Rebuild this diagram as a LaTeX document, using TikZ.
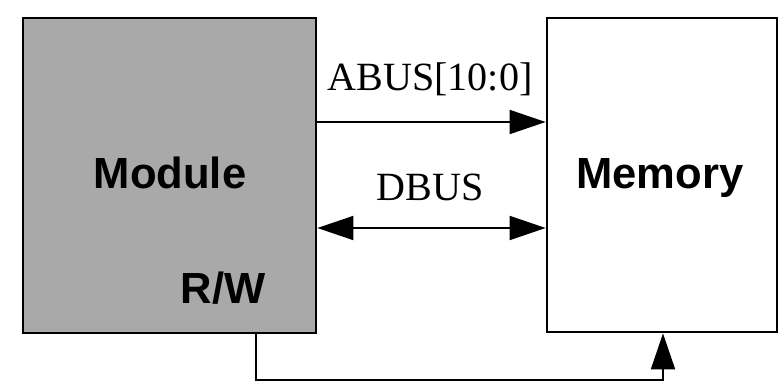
\documentclass[tikz,border=0pt]{standalone}
\usepackage{fontspec}
\setmainfont{Liberation Serif}
\setsansfont{Liberation Sans}
\usepackage{xcolor}
\usepackage{tikz}
\usetikzlibrary{arrows.meta,positioning,calc}
\definecolor{mbgray}{HTML}{A9A9A9}
\tikzset{
  mbblock/.style={draw=black, line width=2pt, inner sep=0pt},
  mbmodule/.style={mbblock, fill=mbgray, minimum width=7.325cm, minimum height=7.875cm},
  mbmemory/.style={mbblock, fill=white, minimum width=5.75cm, minimum height=7.85cm},
  mbname/.style={font=\fontsize{31}{31}\sffamily\bfseries, anchor=base, inner sep=0pt},
  mbbus/.style={font=\fontsize{28.5}{28.5}\selectfont, anchor=base, inner sep=0pt},
  mbarrow/.style={-{Triangle[length=0.9cm, width=0.6cm]}, line width=1.4pt, draw=black},
  mbdarrow/.style={{Triangle[length=0.9cm, width=0.6cm]}-{Triangle[length=0.9cm, width=0.6cm]}, line width=1.4pt, draw=black}
}

\begin{document}
\begin{tikzpicture}
  \useasboundingbox (0,0) rectangle (19.5,9.6);
  % the two blocks
  \node[mbmodule] (mod) at (4.2375,5.2125) {};
  \node[mbmemory] (mem) at (16.55,5.225) {};
  \node[mbname] (modname) at (4.25,4.9) {Module};
  \node[mbname] (memname) at (16.5,4.9) {Memory};
  \node[mbname] (rwname) at (5.575,2.025) {R/W};
  % buses between them
  \coordinate (abus) at (0,6.55);
  \coordinate (dbus) at (0,3.9);
  \draw[mbarrow] (mod.east |- abus) -- (mem.west |- abus);
  \draw[mbdarrow] (mod.east |- dbus) -- (mem.west |- dbus);
  \node[mbbus] (abuslabel) at (10.75,7.35) {ABUS[10:0]};
  \node[mbbus] (dbuslabel) at (10.75,4.6) {DBUS};
  % read/write line
  \coordinate (rwturn) at (6.4,0.1);
  \coordinate (memturn) at (16.575,0.1);
  \draw[mbarrow] (mod.south -| rwturn) -- (rwturn) -- (memturn) -- (mem.south -| memturn);
\end{tikzpicture}
\end{document}
